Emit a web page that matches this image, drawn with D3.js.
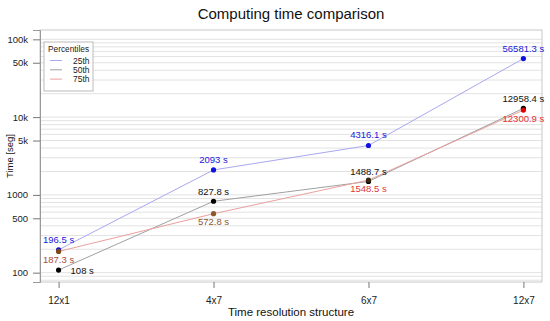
<!DOCTYPE html>
<html>
<head>
<meta charset="utf-8">
<script src="https://cdn.jsdelivr.net/npm/d3@7"></script>
<style>
  body { margin: 0; background: #fff; }
  svg { display: block; font-family: "Liberation Sans", Arial, sans-serif; }
</style>
</head>
<body>
<div id="app"></div>
<script>
const categories = ["12x1", "4x7", "6x7", "12x7"];
const p25 = [196.5, 2093, 4316.1, 56581.3];
const p50 = [108, 827.8, 1488.7, 12958.4];
const p75 = [187.3, 572.8, 1548.5, 12300.9];
const yTicks = [100, 500, 1000, 5000, 10000, 50000, 100000];
const yTickLabels = ["100", "500", "1000", "5k", "10k", "50k", "100k"];

const width = 550, height = 321;
const margin = { top: 30, right: 8, bottom: 39, left: 40 };

const svg = d3.select("#app").append("svg")
  .attr("width", width).attr("height", height);

// index scale with R-style 4% padding
const x = d3.scaleLinear()
  .domain([0 - 0.12, 3 + 0.12])
  .range([margin.left, width - margin.right]);

const y = d3.scaleLog()
  .domain([Math.pow(10, 1.88), Math.pow(10, 5.12)])
  .range([height - margin.bottom, margin.top]);

// grid lines at 1..9 x 10^k
const gridVals = [];
for (let k = 1; k <= 5; k++) {
  for (let m = 1; m <= 9; m++) {
    const v = m * Math.pow(10, k);
    if (v >= y.domain()[0] && v <= y.domain()[1]) gridVals.push(v);
  }
}
svg.append("g").selectAll("line").data(gridVals).join("line")
  .attr("x1", margin.left).attr("x2", width - margin.right)
  .attr("y1", d => y(d)).attr("y2", d => y(d))
  .attr("stroke", "#e2e2e2").attr("stroke-width", 1);

// plot box
svg.append("rect")
  .attr("x", margin.left).attr("y", margin.top)
  .attr("width", width - margin.right - margin.left)
  .attr("height", height - margin.bottom - margin.top)
  .attr("fill", "none").attr("stroke", "#c8c8c8");

// y axis
const yAxis = svg.append("g")
  .attr("transform", `translate(${margin.left},0)`)
  .call(d3.axisLeft(y).tickValues(yTicks).tickSize(7).tickPadding(5)
    .tickFormat((d, i) => yTickLabels[i]));
yAxis.select(".domain").attr("stroke", "#999");
yAxis.selectAll(".tick line").attr("stroke", "#777");
yAxis.selectAll("text").attr("font-size", 9.5).attr("fill", "#222")
  .attr("font-family", "Liberation Sans, Arial, sans-serif");

// x axis
const xAxis = svg.append("g")
  .attr("transform", `translate(0,${height - margin.bottom})`)
  .call(d3.axisBottom(x).tickValues(d3.range(categories.length)).tickSize(6)
    .tickPadding(9).tickFormat(i => categories[i]));
xAxis.select(".domain").remove();
xAxis.selectAll(".tick line").attr("stroke", "#777");
xAxis.selectAll("text").attr("font-size", 10).attr("fill", "#222")
  .attr("font-family", "Liberation Sans, Arial, sans-serif");

// titles
svg.append("text").attr("x", (margin.left + width - margin.right) / 2).attr("y", 19)
  .attr("text-anchor", "middle").attr("font-size", 15).attr("fill", "#111")
  .text("Computing time comparison");
svg.append("text").attr("x", (margin.left + width - margin.right) / 2).attr("y", 316)
  .attr("text-anchor", "middle").attr("font-size", 11.5).attr("fill", "#111")
  .text("Time resolution structure");
svg.append("text")
  .attr("transform", `translate(13,${(margin.top + height - margin.bottom) / 2}) rotate(-90)`)
  .attr("text-anchor", "middle").attr("font-size", 9.5).attr("fill", "#111")
  .text("Time [seg]");

const line = d3.line().x((d, i) => x(i)).y(d => y(d));

const series = [
  { name: "25th", values: p25, line: "#a8a8f0", point: ["#1010e0", "#1010e0", "#1010e0", "#1010e0"], text: "#2020d8" },
  { name: "50th", values: p50, line: "#a0a0a0", point: ["#000", "#000", "#000", "#000"], text: "#111" },
  { name: "75th", values: p75, line: "#eaa0a0", point: ["#7a4a1a", "#8a5a2a", "#3a2a10", "#e00000"], text: ["#b04a30", "#8a5a30", "#e03838", "#e83030"] }
];

series.forEach(s => {
  svg.append("path").datum(s.values)
    .attr("d", line).attr("fill", "none")
    .attr("stroke", s.line).attr("stroke-width", 1);
});

series.forEach(s => {
  svg.append("g").selectAll("circle").data(s.values).join("circle")
    .attr("cx", (d, i) => x(i)).attr("cy", d => y(d))
    .attr("r", 2.6).attr("fill", (d, i) => s.point[i]);
});

const fmt = v => v + " s";

// labels: 25th above
svg.append("g").selectAll("text").data(p25).join("text")
  .attr("x", (d, i) => x(i)).attr("y", d => y(d) - 7)
  .attr("text-anchor", "middle").attr("font-size", 9.5).attr("fill", series[0].text)
  .text(fmt);

// 50th: right of first point, above the others
svg.append("g").selectAll("text").data(p50).join("text")
  .attr("x", (d, i) => i === 0 ? x(i) + 12 : x(i))
  .attr("y", (d, i) => i === 0 ? y(d) + 3.5 : y(d) - 6)
  .attr("text-anchor", (d, i) => i === 0 ? "start" : "middle")
  .attr("font-size", 9.5).attr("fill", series[1].text)
  .text(fmt);

// 75th below
svg.append("g").selectAll("text").data(p75).join("text")
  .attr("x", (d, i) => x(i)).attr("y", d => y(d) + 11.5)
  .attr("text-anchor", "middle").attr("font-size", 9.5)
  .attr("fill", (d, i) => series[2].text[i])
  .text(fmt);

// legend
const lg = svg.append("g").attr("transform", "translate(44,42)");
lg.append("rect").attr("width", 49).attr("height", 49)
  .attr("fill", "#fff").attr("stroke", "#bbb");
lg.append("text").attr("x", 4).attr("y", 10).attr("font-size", 8.3)
  .attr("fill", "#222").text("Percentiles");
series.forEach((s, i) => {
  const yy = 18.5 + i * 9.3;
  lg.append("line").attr("x1", 6).attr("x2", 18).attr("y1", yy).attr("y2", yy)
    .attr("stroke", s.line);
  lg.append("text").attr("x", 29).attr("y", yy + 3).attr("font-size", 8.5)
    .attr("fill", "#222").text(s.name);
});
</script>
</body>
</html>
